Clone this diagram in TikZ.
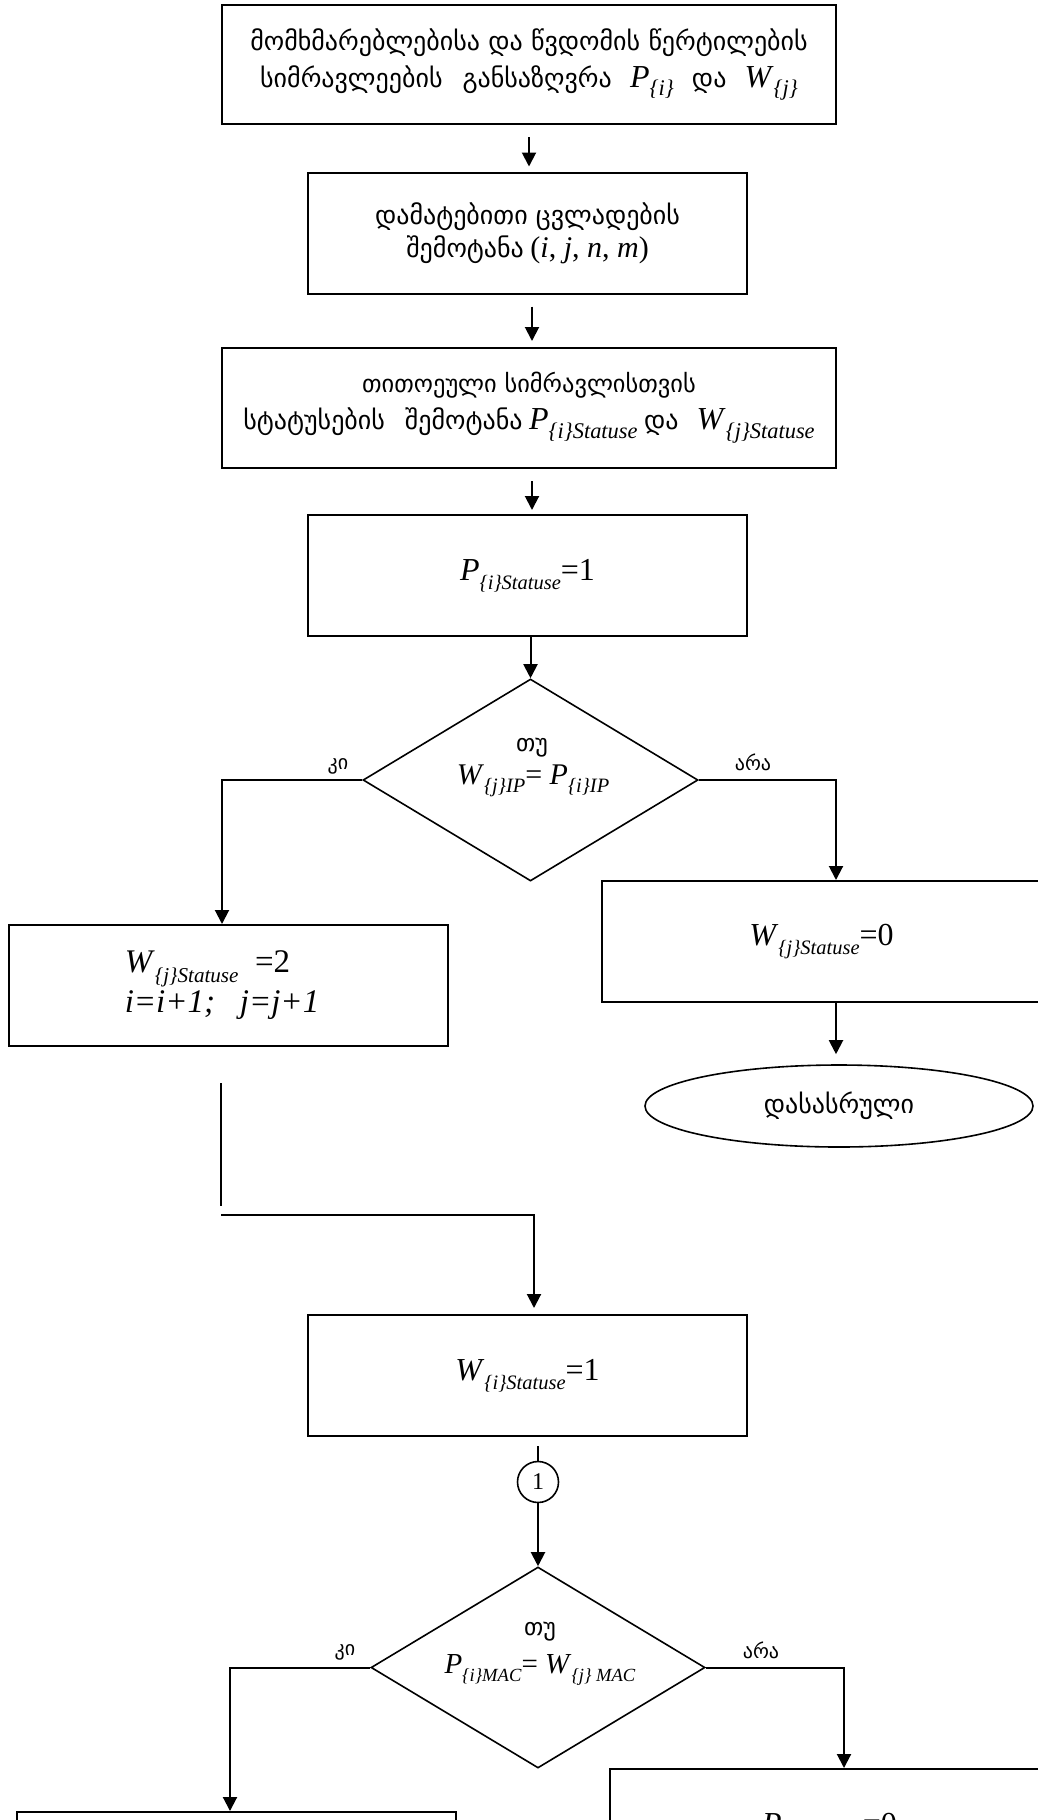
\documentclass[tikz,border=0pt]{standalone}
\usepackage{fontspec}
\setmainfont{Liberation Serif}
\newfontfamily\kafont{DejaVu Sans}
\usetikzlibrary{arrows.meta,shapes.geometric}

% Georgian text
\newcommand{\ka}[1]{{\kafont #1}}
% italic variable with a smaller, lowered italic index (optional: index size in percent)
\makeatletter
\newcommand{\vsub}[3][64]{\textit{#2}\raisebox{-0.28em}{\fontsize{\the\dimexpr\f@size pt*#1/100\relax}{0pt}\selectfont\textit{#3}}}
\makeatother
\newcommand{\gap}{\hspace{0.45em}}

\begin{document}
\begin{tikzpicture}[x=0.5pt, y=-0.5pt,
  box/.style={draw, rectangle, line width=1pt, inner sep=0pt, align=center,
              minimum width=219.5pt, minimum height=60.5pt},
  widebox/.style={box, minimum width=307pt, minimum height=59.5pt},
  decision/.style={draw, diamond, line width=0.8pt, inner sep=0pt,
                   minimum width=167.5pt, minimum height=101pt},
  terminal/.style={draw, ellipse, line width=0.8pt, inner sep=0pt,
                   minimum width=194pt, minimum height=41pt},
  joint/.style={draw, circle, line width=0.8pt, inner sep=0pt, minimum size=20.5pt},
  geotext/.style={font=\fontsize{13}{18.5}\selectfont},
  formula/.style={font=\fontsize{16}{20}\selectfont},
  tag/.style={inner sep=0pt, font=\fontsize{10}{12}\selectfont},
  conn/.style={line width=1pt, -{Triangle[length=7pt,width=7pt]}},
  plain/.style={line width=1pt}]

\useasboundingbox (0,0) rectangle (1038,1820);
\clip (0,0) rectangle (1038,1820);
\fill[white] (0,0) rectangle (1038,1820);

% process boxes
\node[widebox, geotext] (b1) at (529,64.5)
  {\ka{მომხმარებლებისა და წვდომის წერტილების}\\
   \ka{სიმრავლეების\gap{} განსაზღვრა}\gap{} {\fontsize{16}{18.5}\selectfont\vsub[70]{P}{\{i\}}}\gap{} \ka{და}\gap{} {\fontsize{16}{18.5}\selectfont\vsub[70]{W}{\{j\}}}};
\node[box, font=\fontsize{13}{16.5}\selectfont] (b2) at (527.5,233)
  {\ka{დამატებითი ცვლადების}\\
   \ka{შემოტანა} {\fontsize{15}{16.5}\selectfont(\textit{i}, \textit{j}, \textit{n}, \textit{m})}};
\node[widebox, geotext, minimum height=60pt] (b3) at (529,408)
  {{\fontsize{12.2}{18.5}\selectfont\ka{თითოეული სიმრავლისთვის}}\\
   \ka{სტატუსების\gap{} შემოტანა} {\fontsize{16}{18.5}\selectfont\vsub[70]{P}{\{i\}Statuse}} \ka{და}\gap{} {\fontsize{16}{18.5}\selectfont\vsub[70]{W}{\{j\}Statuse}}};
\node[box, formula] (b4) at (527.5,575.5) {\vsub{P}{\{i\}Statuse}=1};

% first decision
\node[decision] (d1) at (530.5,780) {};
\node[inner sep=0pt, font=\fontsize{12}{14}\selectfont] (d1q) at (532,747) {\ka{თუ}};
\node[inner sep=0pt, font=\fontsize{15}{18}\selectfont] (d1f) at (533,781)
  {\vsub[68]{W}{\{j\}IP}= \vsub[68]{P}{\{i\}IP}};
\node[tag] (d1y) at (338,766) {\ka{კი}};
\node[tag] (d1n) at (753,762) {\ka{არა}};

\node[box, font=\fontsize{16.5}{20}\selectfont] (b5) at (228.5,985.5)
  {\vsub{W}{\{j\}Statuse}\ \ =2\hspace*{21pt}\\ \textit{i=i+1;\ \ \ j=j+1}\hspace*{6.5pt}};
\node[box, formula] (b6) at (821.5,941.5) {\vsub{W}{\{j\}Statuse}=0};
\node[terminal, geotext] (e1) at (839,1106) {\ka{დასასრული}};

\node[box, formula] (b7) at (527.5,1375.5) {\vsub{W}{\{i\}Statuse}=1};
\node[joint, font=\fontsize{12}{14}\selectfont] (c1) at (538,1482) {1};

% second decision
\node[decision, minimum height=100.5pt, minimum width=167pt] (d2) at (538,1667.5) {};
\node[inner sep=0pt, font=\fontsize{12}{14}\selectfont] (d2q) at (540,1631) {\ka{თუ}};
\node[inner sep=0pt, font=\fontsize{14.5}{18}\selectfont] (d2f) at (540,1670)
  {\vsub{P}{\{i\}MAC}= \vsub{W}{\{j\} MAC}};
\node[tag] (d2y) at (345,1652) {\ka{კი}};
\node[tag] (d2n) at (761,1650) {\ka{არა}};

\node[box] (b8) at (236.5,1872.5) {};
\node[box, formula] (b9) at (829.5,1829.5) {\vsub{P}{\{i\}Statuse}=0};

% free ends of the broken return line
\coordinate (v1) at (221,1083);
\coordinate (v2) at (221,1206);
\coordinate (h1) at (221,1215);
\coordinate (t1) at (538,1446);

% connectors
\draw[conn, shorten <=6pt, shorten >=2.5pt] (b1.south) -- (b1.south |- b2.north);
\draw[conn, shorten <=6pt, shorten >=3pt] ([xshift=1.5pt]b2.south -| b1.south) -- ([xshift=1.5pt]b1.south |- b3.north);
\draw[conn, shorten <=6pt, shorten >=2pt] ([xshift=1.5pt]b3.south) -- ([xshift=1.5pt]b3.south |- b4.north);
\draw[conn] (b4.south -| d1.north) -- (d1.north);

\draw[conn] (d1.west) -| ([xshift=-3.25pt]b5.north);
\draw[conn] (d1.east) -| ([xshift=7.25pt]b6.north);
\draw[conn, shorten >=5pt] ([xshift=7.25pt]b6.south) -- ([xshift=7.25pt]b6.south |- e1.north);

\draw[plain] (v1) -- (v2);
\draw[conn, shorten >=3pt] (h1) -| ([xshift=3.25pt]b7.north);

\draw[plain] (t1) -- (c1.north);
\draw[conn] (c1.south) -- (d2.north);
\draw[conn] (d2.west) -| ([xshift=-3.25pt]b8.north);
\draw[conn] (d2.east) -| ([xshift=7.25pt]b9.north);

\end{tikzpicture}
\end{document}
